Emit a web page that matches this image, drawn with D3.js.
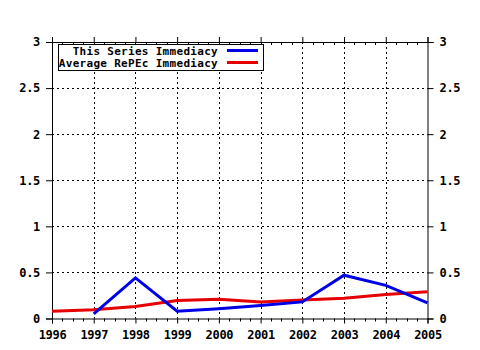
<!DOCTYPE html>
<html>
<head>
<meta charset="utf-8">
<script src="https://cdn.jsdelivr.net/npm/d3@7"></script>
<style>
  body { margin: 0; background: #fff; }
  svg text { font-family: "DejaVu Sans Mono", monospace; font-weight: bold; font-size: 12px; letter-spacing: -0.3px; fill: #000; }
  svg .legend text { font-size: 11px; letter-spacing: 0.3px; }
</style>
</head>
<body>
<svg id="chart" width="480" height="350"></svg>
<script>
const years = [1996, 1997, 1998, 1999, 2000, 2001, 2002, 2003, 2004, 2005];
const seriesYears = [1997, 1998, 1999, 2000, 2001, 2002, 2003, 2004, 2005];
const seriesImmediacy = [0.05, 0.44, 0.08, 0.105, 0.14, 0.18, 0.47, 0.36, 0.17];
const repecImmediacy = [0.078, 0.095, 0.13, 0.195, 0.21, 0.18, 0.2, 0.22, 0.26, 0.29];
const yTicks = [0, 0.5, 1, 1.5, 2, 2.5, 3];
const yTickLabels = ["0", "0.5", "1", "1.5", "2", "2.5", "3"];
const legendLabels = ["This Series Immediacy", "Average RePEc Immediacy"];
const colors = ["#0000e6", "#e60000"];

const svg = d3.select("svg#chart");
const margin = { top: 42, right: 52, bottom: 30, left: 52 };
const width = +svg.attr("width");
const height = +svg.attr("height");
const chartWidth = width - margin.left - margin.right;
const chartHeight = height - margin.top - margin.bottom;

const x = d3.scaleLinear().domain([1996, 2005]).range([0, chartWidth - 0.5]);
const y = d3.scaleLinear().domain([0, 3]).range([chartHeight - 1.5, 0]);

const g = svg.append("g").attr("transform", `translate(${margin.left},${margin.top})`);

// gridlines
g.append("g").selectAll("line")
  .data(years.slice(1, -1))
  .join("line")
  .attr("x1", d => Math.round(x(d)) + 0.5).attr("x2", d => Math.round(x(d)) + 0.5)
  .attr("y1", 0).attr("y2", y(0))
  .attr("stroke", "#000").attr("stroke-dasharray", "2,3");
g.append("g").selectAll("line")
  .data(yTicks.slice(1, -1))
  .join("line")
  .attr("y1", d => Math.round(y(d)) + 0.5).attr("y2", d => Math.round(y(d)) + 0.5)
  .attr("x1", 0).attr("x2", x(2005))
  .attr("stroke", "#000").attr("stroke-dasharray", "2,3");

// minor ticks on x (top and bottom)
const minor = [];
years.slice(0, -1).forEach(yr => { for (let k = 1; k < 4; k++) minor.push(yr + k / 4); });
g.append("g").selectAll("line")
  .data(minor).join("line")
  .attr("x1", d => Math.round(x(d)) + 0.5).attr("x2", d => Math.round(x(d)) + 0.5)
  .attr("y1", y(0)).attr("y2", y(0) + 3).attr("stroke", "#000");
g.append("g").selectAll("line")
  .data(minor).join("line")
  .attr("x1", d => Math.round(x(d)) + 0.5).attr("x2", d => Math.round(x(d)) + 0.5)
  .attr("y1", 0).attr("y2", 3).attr("stroke", "#000");

// axes
const bottomAxis = d3.axisBottom(x).tickValues(years).tickFormat(d3.format("d")).tickSize(5).tickPadding(7);
const topAxis = d3.axisTop(x).tickValues(years).tickFormat("").tickSize(5);
const leftAxis = d3.axisLeft(y).tickValues(yTicks).tickFormat((d, i) => yTickLabels[i]).tickSize(6).tickPadding(6);
const rightAxis = d3.axisRight(y).tickValues(yTicks).tickFormat((d, i) => yTickLabels[i]).tickSize(6).tickPadding(6);

function style(sel) {
  sel.selectAll("path").attr("stroke", "#000").attr("stroke-width", 1);
  sel.selectAll("line").attr("stroke", "#000");
  sel.selectAll("text").attr("font-family", null).attr("font-size", null).attr("fill", "#000");
}
g.append("g").attr("transform", `translate(0,${y(0)})`).call(bottomAxis).call(style);
g.append("g").call(topAxis).call(style);
g.append("g").call(leftAxis).call(style);
g.append("g").attr("transform", `translate(${x(2005)},0)`).call(rightAxis).call(style);

// lines
const lineGen = d3.line().x(d => x(d[0])).y(d => y(d[1]));
g.append("path")
  .datum(years.map((d, i) => [d, repecImmediacy[i]]))
  .attr("fill", "none").attr("stroke", colors[1]).attr("stroke-width", 3)
  .attr("d", lineGen);
g.append("path")
  .datum(seriesYears.map((d, i) => [d, seriesImmediacy[i]]))
  .attr("fill", "none").attr("stroke", colors[0]).attr("stroke-width", 3)
  .attr("d", lineGen);

// legend
const legend = svg.append("g").attr("class", "legend").attr("transform", "translate(58,44)");
legend.append("rect")
  .attr("x", 0.5).attr("y", 0.5).attr("width", 205).attr("height", 26)
  .attr("fill", "#fff").attr("stroke", "#000");
legendLabels.forEach((lab, i) => {
  legend.append("text")
    .attr("x", 160).attr("y", 7.5 + i * 12).attr("dy", "0.35em")
    .attr("text-anchor", "end")
    .text(lab);
  legend.append("line")
    .attr("x1", 169).attr("x2", 200)
    .attr("y1", 6.5 + i * 12).attr("y2", 6.5 + i * 12)
    .attr("stroke", colors[i]).attr("stroke-width", 3);
});
</script>
</body>
</html>
